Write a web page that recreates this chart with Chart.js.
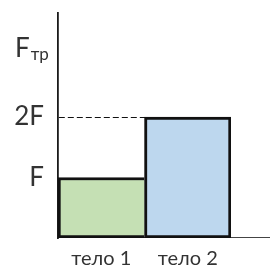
<!DOCTYPE html>
<html>
<head>
<meta charset="utf-8">
<script src="https://cdn.jsdelivr.net/npm/chart.js@4.4.1/dist/chart.umd.min.js"></script>
<style>
  html, body { margin: 0; padding: 0; background: #fff; }
  #wrap { width: 270px; height: 266px; }
</style>
</head>
<body>
<div id="wrap"><canvas id="forceChart"></canvas></div>
<script>
// data
const bodies = ['тело 1', 'тело 2'];
const forces = [1, 2];
const yTicks = [1, 2];
const yTickLabels = ['F', '2F'];
const barColors = ['#c5e0b4', '#bdd7ee'];

Chart.defaults.font.family = 'Lato, "Open Sans", sans-serif';

// F_тр label above the ticks + x axis line running past the plot
const extras = {
    id: 'extras',
    beforeDatasetsDraw(chart) {
        const ctx = chart.ctx;
        const area = chart.chartArea;
        ctx.save();
        ctx.strokeStyle = '#444';
        ctx.lineWidth = 1;
        ctx.beginPath();
        ctx.moveTo(area.left, area.bottom - 0.5);
        ctx.lineTo(chart.width, area.bottom - 0.5);
        ctx.stroke();
        ctx.restore();
    },
    afterDraw(chart) {
        const ctx = chart.ctx;
        const y = chart.scales.y;
        const base = y.getPixelForValue(3);
        const left = chart.chartArea.left - 43;
        ctx.save();
        ctx.fillStyle = '#333';
        ctx.textBaseline = 'alphabetic';
        ctx.textAlign = 'left';
        ctx.font = '26px Lato';
        ctx.fillText('F', left, base);
        const w = ctx.measureText('F').width;
        ctx.font = '17px Lato';
        ctx.fillText('тр', left + w + 1, base + 3);
        ctx.restore();
    }
};

const ctx = document.getElementById('forceChart').getContext('2d');
new Chart(ctx, {
    type: 'bar',
    data: {
        labels: bodies,
        datasets: [{
            data: forces,
            backgroundColor: barColors,
            borderColor: '#111',
            borderWidth: function(c) {
                return c.dataIndex === 0
                    ? { left: 3, top: 3, bottom: 3, right: 0 }
                    : { left: 3, top: 3, bottom: 3, right: 3 };
            },
            borderSkipped: false,
            barPercentage: 1,
            categoryPercentage: 1
        }]
    },
    options: {
        responsive: true,
        maintainAspectRatio: false,
        animation: false,
        layout: { padding: { top: 13, right: 39, left: 0, bottom: 0 } },
        plugins: {
            legend: { display: false },
            tooltip: { enabled: false }
        },
        scales: {
            x: {
                grid: { display: false, drawTicks: false },
                border: { display: false },
                ticks: {
                    color: '#333',
                    padding: 9,
                    font: { size: 20 }
                },
                afterFit: function(s) {
                    s.height = 28;
                    s.paddingLeft = 0;
                    s.paddingRight = 0;
                }
            },
            y: {
                min: 0,
                max: 3.72,
                afterBuildTicks: function(s) {
                    s.ticks = yTicks.map(v => ({ value: v }));
                },
                grid: {
                    // only the 2F level shows as a dashed guide
                    color: c => c.tick && c.tick.value === yTicks[yTicks.length - 1] ? '#111' : 'rgba(0,0,0,0)',
                    lineWidth: 1,
                    drawTicks: false
                },
                border: { display: true, color: '#1a1a1a', width: 1.8, dash: [6, 3] },
                ticks: {
                    color: '#333',
                    padding: 14,
                    font: { size: 26 },
                    callback: function(v) {
                        const i = yTicks.indexOf(v);
                        return i >= 0 ? yTickLabels[i] : '';
                    }
                },
                afterFit: function(s) {
                    s.width = 58;
                    s.paddingTop = 0;
                    s.paddingBottom = 0;
                }
            }
        }
    },
    plugins: [extras]
});
</script>
</body>
</html>
